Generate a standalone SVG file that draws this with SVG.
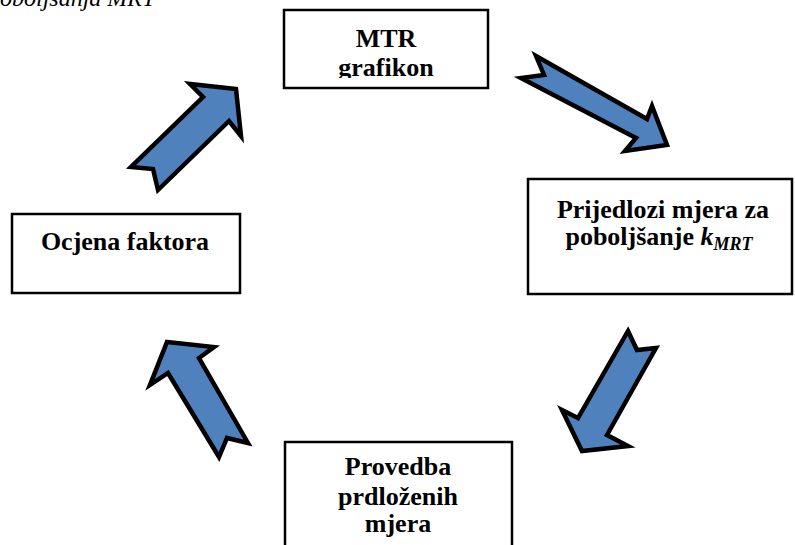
<svg xmlns="http://www.w3.org/2000/svg" width="795" height="545" viewBox="0 0 795 545">
<style>
.box{fill:#fff;stroke:#000;stroke-width:2.5}
.t{font-family:"Liberation Serif","Times New Roman",serif;font-weight:bold;font-size:26px;text-anchor:middle;fill:#000}
.cap{font-family:"Liberation Serif","Times New Roman",serif;font-style:italic;font-size:24px;fill:#000}
.arr{fill:#4F81BD;stroke:#000;stroke-width:4.5;stroke-linejoin:miter;stroke-miterlimit:10}
</style>
<defs>
<clipPath id="c1"><rect x="286" y="12" width="200" height="66"/></clipPath>
<clipPath id="c4"><rect x="287" y="444" width="223" height="93"/></clipPath>
</defs>
<text class="cap" x="0" y="6">oboljšanja MRT</text>
<g id="connectors">
<polygon class="arr" points="536,56 544,75 521,78 636,138 625,151 667,145 652,106 647,119"/>
<polygon class="arr" points="628,331 637,350 656,348 607,435 628,446 582,451 562,410 578,418"/>
<polygon class="arr" points="167,342 214,347 199,358 248,443 227,438 219,457 168,373 150,385"/>
<polygon class="arr" points="236,89 190,84 203,97 131,167 153,169 158,190 229,121 241,136"/>
</g>
<g id="node-mtr">
<rect class="box" x="284" y="10" width="204" height="78"/>
<g clip-path="url(#c1)">
<text class="t" x="386" y="47">MTR</text>
<text class="t" x="386" y="76">grafikon</text>
</g>
</g>
<g id="node-prijedlozi">
<rect class="box" x="528" y="179" width="264" height="115"/>
<text class="t" x="663" y="218">Prijedlozi mjera za</text>
<text class="t" x="659" y="245">poboljšanje <tspan font-style="italic">k</tspan><tspan font-style="italic" font-size="18" dy="5">MRT</tspan></text>
</g>
<g id="node-ocjena">
<rect class="box" x="12" y="214" width="228" height="79"/>
<text class="t" x="125" y="250">Ocjena faktora</text>
</g>
<g id="node-provedba">
<rect class="box" x="285" y="442" width="227" height="110"/>
<g clip-path="url(#c4)">
<text class="t" x="398" y="475">Provedba</text>
<text class="t" x="398" y="505">prdloženih</text>
<text class="t" x="398" y="532">mjera</text>
</g>
</g>
</svg>
